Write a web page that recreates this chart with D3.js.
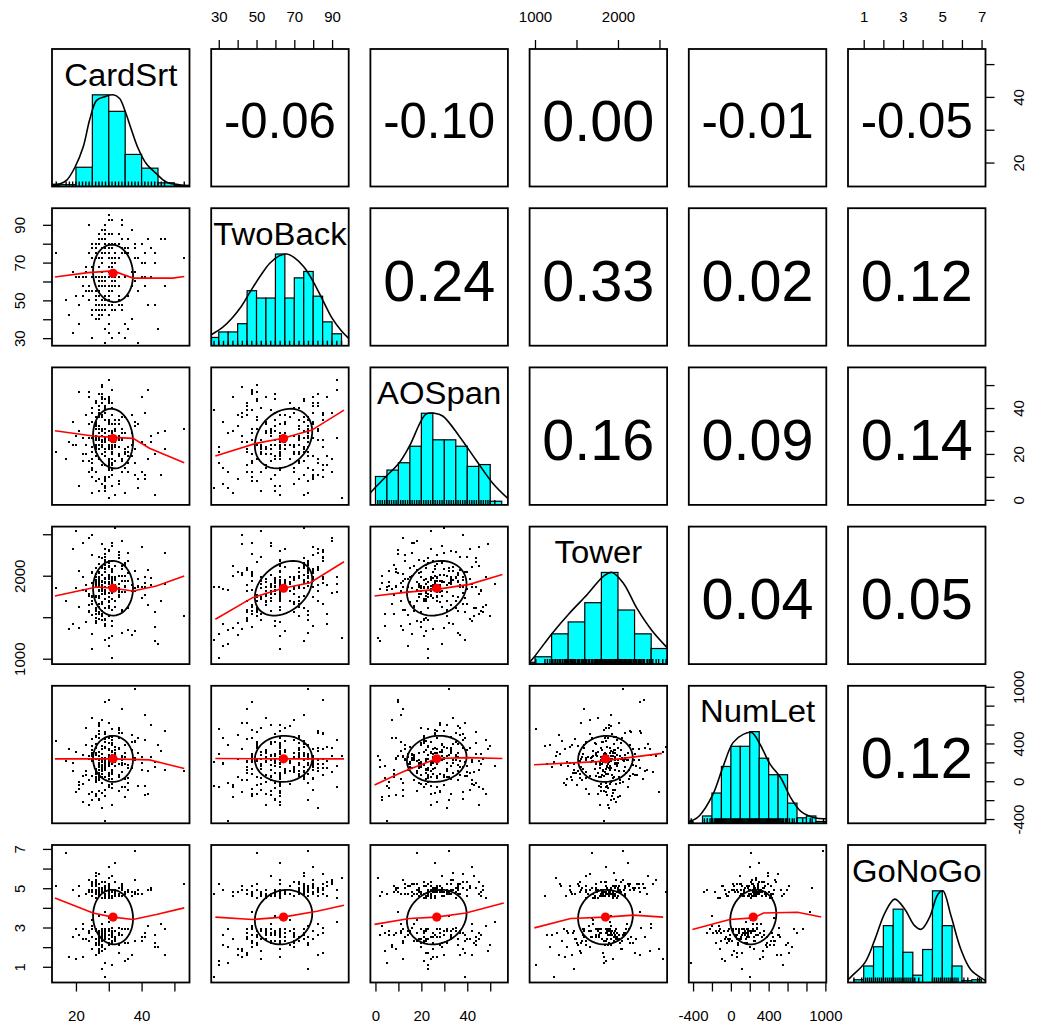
<!DOCTYPE html>
<html>
<head>
<meta charset="utf-8">
<script src="https://cdn.jsdelivr.net/npm/d3@7"></script>
<style>
  body { margin: 0; background: #fff; }
  svg { display: block; }
  text { font-family: "Liberation Sans", Arial, Helvetica, sans-serif; fill: #000; }
</style>
</head>
<body>
<svg id="chart" width="1037" height="1032"></svg>
<script>
// ---- variables ----
const varNames = ["CardSrt", "TwoBack", "AOSpan", "Tower", "NumLet", "GoNoGo"];

const cardSrt = [
  28,31,21,35,29,33,27,30,41,25,32,29,22,36,28,30,27,34,26,31,
  29,38,25,30,27,33,28,24,31,44,35,26,30,40,28,32,27,29,23,31,
  26,30,34,28,37,25,29,31,27,42,30,28,33,26,19,21,32,27,36,30,
  28,25,31,29,44,27,30,33,26,38,35,29,31,20,27,34,30,28,39,26,
  32,29,27,31,25,30,38,28,22,33,29,23,30,27,36,31,28,46,29,26,
  30,27,34,45,31,25,29,41,32,26,30,28,35,27,24,31,29,33,28,30,
  27,31,26,24,37,30,28,22,32,27,34,29,25,31,28,40,30,26,33,29,
  28,30,35,26,29,32,27,43,31,39,25,30,14,29,34,27,31,26,38,28,
  31,26,29,33,27,30,24,28,36,18,32,25,30,28,42,27,31,29,35,26,
  29,32,41,30,27,47,25,31,29,34,28,23,30,26,37,29,53,27,31,17,
  30,24,33,27,39,29,21,31,26,35,28,44,30,25,32,19,29,36,27,34,
  26,31,28,43,30,23,33,27,29,38,25,31,22,34,28,30,41,26,32,29,
  33,27,30,20,29,36,25,31,28,47,26,32,29,24,37,30,27,40,31,28
];
const twoBack = [
  62.5,70,47.5,77.5,60,85,52.5,65,57.5,72.5,80,45,62.5,35,75,55,67.5,90,50,62.5,
  77.5,60,42.5,72.5,62.5,47.5,82.5,57.5,65,75,30,62.5,52.5,80,70,45,60,87.5,55,77.5,
  62.5,50,75,65,40,80,57.5,62.5,72.5,47.5,85,60,52.5,77.5,32.5,62.5,70,45,82.5,57.5,
  75,62.5,55,80,47.5,62.5,92.5,50,72.5,65,37.5,77.5,60,52.5,82.5,45,62.5,70,27.5,75,
  60,85,47.5,62.5,77.5,55,72.5,42.5,62.5,80,50,67.5,95,57.5,75,45,62.5,82.5,52.5,72.5,
  47.5,62.5,77.5,35,60,80,52.5,70,62.5,45,85,57.5,75,62.5,50,30,77.5,62.5,72.5,55,
  80,62.5,47.5,75,57.5,65,87.5,52.5,62.5,40,77.5,60,72.5,47.5,82.5,62.5,55,75,32.5,62.5,
  57.5,77.5,62.5,50,82.5,72.5,45,62.5,80,55,67.5,37.5,75,60,47.5,85,62.5,52.5,77.5,70,
  62.5,45,80,57.5,72.5,50,90,62.5,77.5,42.5,62.5,55,75,47.5,82.5,60,70,27.5,62.5,80,
  52.5,75,62.5,47.5,85,57.5,72.5,62.5,35,77.5,45,62.5,80,55,65,47.5,72.5,60,92.5,50,
  67.5,55,80,45,72.5,62.5,37.5,85,50,75,60,70,42.5,77.5,57.5,65,90,52.5,62.5,82.5,
  47.5,72.5,60,77.5,32.5,65,85,55,62.5,80,45,70,57.5,92.5,50,67.5,75,40,62.5,80,
  72.5,57.5,85,62.5,50,77.5,30,67.5,60,82.5,47.5,65,75,55,87.5,62.5,42.5,70,57.5,77.5
];
const aoSpan = [
  23,14,47,29,19,35,4,26,9,40,33,21,27,12,44,22,36,18,31,24,
  27,11,38,35,22,26,42,17,28,2,21,33,23,45,7,25,38,15,20,30,
  19,43,17,25,37,10,31,21,24,48,13,30,20,28,34,6,24,39,16,22,
  36,23,14,41,20,27,52,8,32,22,3,29,18,24,46,12,33,28,5,34,
  35,26,39,22,14,30,16,49,27,19,44,24,1,31,23,37,26,11,40,21,
  17,24,31,29,6,13,22,38,25,42,10,20,36,18,47,23,8,33,28,15,
  38,21,12,27,24,34,45,20,23,9,36,26,40,16,31,25,22,43,7,19,
  30,35,20,24,41,17,22,28,11,33,18,45,21,4,29,37,13,26,32,23,
  33,22,9,28,24,44,12,37,19,25,2,34,23,46,18,32,21,39,14,27,
  21,30,24,16,38,22,27,25,5,36,15,20,42,23,29,10,31,26,48,18,
  18,33,27,41,9,25,30,15,36,22,46,20,28,3,31,24,38,12,29,26,
  31,20,44,25,14,37,23,29,6,34,21,40,17,27,50,24,11,32,26,19,
  26,39,13,28,35,21,16,42,24,30,8,33,22,45,19,27,36,12,29,23
];
const tower = [
  1850,1960,1620,2150,1780,2280,1540,1910,1870,2040,1990,1480,1830,1350,2210,1700,1920,2420,1590,1880,
  1970,1820,2490,1690,1760,1830,2110,1570,1940,1210,1860,1980,1740,2350,1660,1890,1950,1420,1810,2080,
  1900,1510,2120,1860,1290,2030,1800,1720,1990,1650,2180,1930,1850,1880,1420,2060,1840,1560,2270,1790,
  2010,1120,1870,1960,1380,2140,1900,1770,2090,1330,2000,1920,1460,2540,1810,1590,2300,1680,1870,1950,
  1970,1910,2050,1790,1530,1930,1850,2380,1980,1740,2160,1820,1250,1890,1610,2070,1940,1700,2220,1860,
  1640,1950,2000,1180,1880,2250,1720,1990,1860,1450,2310,1780,1940,1830,1560,1010,2130,1900,1850,1680,
  1870,1270,2020,1750,1810,2100,1540,1980,1870,2040,1310,1930,1660,2400,1890,1730,1960,1610,1840,2190,
  2010,1990,1880,1760,2320,1620,1820,1890,1390,1960,1700,2120,1850,1400,1940,2230,1590,1900,2060,1780,
  1920,1490,2080,1800,1970,1610,2460,1870,2030,1360,1840,1760,2150,1580,2070,1910,1950,1230,1800,1940,
  1470,2580,1770,2000,1660,1900,1740,2180,1830,1570,2090,1440,1860,1920,1810,2260,1520,1880,1990,1690,
  1920,1650,2250,1480,1880,2050,1370,1990,1740,2130,1830,1560,2010,1910,1700,2320,1790,1940,1620,2080,
  1580,2040,1860,1970,1150,1890,2210,1760,1930,2060,1690,1840,2400,1800,1520,1980,1910,1430,2120,1870,
  2000,1730,1960,1850,1610,2180,1300,1900,1820,2270,1540,1950,2090,1780,1890,1690,2030,1860,2360,1470
];
const numLet = [
  240,120,-80,380,190,510,30,270,-150,330,160,450,60,-20,290,210,580,100,350,-250,
  180,420,-110,260,90,540,230,10,310,150,-60,470,280,120,650,200,-190,360,70,250,
  300,-40,220,130,490,270,50,410,170,-130,340,240,560,80,190,-10,300,620,140,230,
  110,370,260,-90,200,530,160,40,280,430,-170,240,90,310,180,760,20,250,-50,390,
  220,140,460,-30,290,70,250,340,-220,180,520,110,270,600,30,210,-120,320,160,480,
  260,50,190,380,-70,230,130,440,290,10,860,170,300,-100,240,550,120,350,80,200,
  150,310,-160,270,420,90,210,-30,360,240,170,500,60,280,-280,190,330,100,460,230,
  40,280,180,-140,350,250,120,590,20,300,210,-60,430,160,270,70,380,240,980,140,
  320,90,250,-100,190,410,270,150,-20,340,220,670,60,290,110,-200,470,200,260,30,
  180,360,-50,230,500,120,300,80,-420,260,150,380,200,-10,330,840,110,270,440,210,
  210,-130,340,90,460,250,-40,180,390,20,290,150,620,-200,270,110,350,-90,230,510,
  130,400,-20,260,180,560,70,310,-160,220,450,100,280,-60,370,190,700,40,300,160,
  350,60,240,-110,420,170,290,-30,200,530,80,330,240,-250,140,460,10,260,390,120
];
const goNoGo = [
  4.8,2.6,5.1,2.2,4.6,3.0,1.8,4.9,2.7,5.3,2.4,4.7,1.5,2.9,5.0,4.5,2.1,5.2,2.8,4.9,
  2.5,4.7,1.9,5.0,2.8,4.6,3.2,2.3,4.8,2.6,1.3,5.4,2.9,4.7,2.0,4.9,2.7,5.1,2.4,4.6,
  4.9,2.2,5.2,2.7,1.6,4.8,2.9,4.5,2.5,3.1,5.0,2.8,4.7,2.1,4.9,2.6,5.3,1.7,4.8,2.9,
  2.4,4.6,2.8,5.1,2.0,4.9,3.3,2.6,4.7,2.3,4.8,5.0,2.7,1.4,4.6,2.9,5.2,2.5,4.7,5.8,
  2.8,4.9,2.3,4.6,5.1,2.6,4.8,1.8,2.9,5.0,2.5,4.7,5.5,2.2,4.9,2.7,4.5,3.2,2.4,5.3,
  4.7,2.5,4.9,2.0,2.8,5.2,4.6,2.7,4.8,1.6,5.0,2.9,4.7,2.3,4.9,1.1,5.1,2.6,4.8,2.8,
  5.0,2.7,2.2,4.8,4.6,2.9,5.3,2.4,4.7,1.9,5.1,2.6,4.9,3.0,4.8,2.5,4.6,5.6,2.1,4.9,
  2.6,4.8,2.9,4.5,5.0,2.3,1.7,4.9,2.8,4.7,3.4,2.4,5.1,2.7,4.6,5.2,2.5,4.8,6.9,2.9,
  4.9,2.4,5.0,2.7,4.7,2.1,5.4,2.8,4.8,1.5,4.6,2.9,5.2,2.6,4.9,3.6,2.3,0.5,4.7,5.1,
  2.8,4.8,2.5,4.6,5.7,2.9,4.9,2.2,1.2,5.0,2.7,4.7,6.1,2.4,4.8,3.8,5.2,2.6,4.5,6.8,
  4.7,2.8,5.0,2.4,4.9,1.9,4.6,2.7,5.2,2.9,4.8,2.2,5.1,3.1,4.7,2.5,5.3,1.4,4.8,2.6,
  2.9,4.8,2.3,5.0,2.6,4.7,1.7,4.9,2.8,5.4,2.5,4.6,3.2,4.9,2.1,5.1,2.7,4.8,6.3,2.4,
  5.0,2.6,4.7,2.9,4.5,2.2,5.2,2.8,4.9,1.6,4.8,2.5,5.1,2.7,4.6,3.5,4.9,2.3,5.6,0.9
];

// summary values per variable
const varMeans = [31.3, 64.3, 26.7, 1849, 237, 3.53];
const varSds   = [6.1, 15.2, 13.0, 330, 244, 1.39];

// upper-triangle correlations, row by row
const corrRows = [
  [-0.06, -0.10, 0.00, -0.01, -0.05],
  [0.24, 0.33, 0.02, 0.12],
  [0.16, 0.09, 0.14],
  [0.04, 0.05],
  [0.12]
];

// axis ranges, tick positions and labelled ticks
const axisDomains = [[12.7, 54.6], [26, 98.8], [-2.2, 57.7], [935, 2592], [-445, 1010], [0.2, 7.2]];
const axisTicks = [
  [20, 30, 40, 50],
  [30, 40, 50, 60, 70, 80, 90],
  [0, 10, 20, 30, 40, 50],
  [1000, 1500, 2000, 2500],
  [-400, -200, 0, 200, 400, 600, 800, 1000],
  [1, 2, 3, 4, 5, 6, 7]
];
const axisLabels = [
  [20, 40],
  [30, 50, 70, 90],
  [0, 20, 40],
  [1000, 2000],
  [-400, 0, 400, 1000],
  [1, 3, 5, 7]
];

// histogram breaks and bar heights (scaled so the tallest bar is 1)
const histBreaks = [
  [10, 15, 20, 25, 30, 35, 40, 45, 50, 55],
  [25, 30, 35, 40, 45, 50, 55, 60, 65, 70, 75, 80, 85, 90, 95],
  [0, 5, 10, 15, 20, 25, 30, 35, 40, 45, 50, 55],
  [800, 1000, 1200, 1400, 1600, 1800, 2000, 2200, 2400, 2600],
  [-500, -400, -300, -200, -100, 0, 100, 200, 300, 400, 500, 600, 700, 800, 900, 1000],
  [0.5, 1, 1.5, 2, 2.5, 3, 3.5, 4, 4.5, 5, 5.5, 6, 6.5, 7]
];
const histHeights = [
  [0.01, 0.02, 0.21, 1.0, 0.82, 0.35, 0.2, 0.04, 0.01],
  [0.09, 0.15, 0.15, 0.24, 0.60, 0.52, 0.52, 1.0, 0.52, 0.74, 0.81, 0.54, 0.26, 0.13],
  [0.31, 0.38, 0.46, 0.64, 1.0, 0.71, 0.71, 0.64, 0.42, 0.44, 0.04],
  [0.02, 0.08, 0.33, 0.46, 0.67, 1.0, 0.59, 0.33, 0.17],
  [0.02, 0.0, 0.08, 0.33, 0.62, 0.84, 0.84, 1.0, 0.71, 0.53, 0.53, 0.22, 0.06, 0.08, 0.02],
  [0.03, 0.18, 0.39, 0.62, 0.80, 0.33, 0.08, 0.36, 1.0, 0.62, 0.18, 0.02, 0.03]
];

// density curves (scaled so the peak is 1)
const densityCurves = [
  [[12.7,0.02],[15.2,0.03],[17.2,0.07],[19.7,0.21],[22.2,0.43],[24.2,0.73],[26.3,0.94],[28.8,0.98],[31.3,1.0],[33.3,0.96],[34.8,0.84],[36.9,0.62],[38.9,0.42],[41.4,0.25],[44.5,0.14],[47.5,0.05],[51.5,0.02],[54.6,0.01]],
  [[26,0.12],[32,0.2],[37,0.3],[42,0.43],[47,0.6],[52,0.76],[57,0.9],[62,0.98],[66,1.0],[70,0.96],[75,0.86],[80,0.7],[85,0.5],[90,0.3],[95,0.16],[98.8,0.08]],
  [[-2.2,0.13],[-1.2,0.16],[4.6,0.31],[10.4,0.46],[14.8,0.64],[22,0.99],[25.7,1.0],[29.3,0.97],[36.5,0.75],[43.8,0.49],[51,0.24],[57.7,0.07]],
  [[935,0.02],[992,0.08],[1211,0.34],[1410,0.55],[1630,0.76],[1828,0.96],[1928,1.0],[2067,0.88],[2227,0.61],[2406,0.37],[2592,0.18]],
  [[-445,0.02],[-389,0.04],[-335,0.08],[-192,0.31],[-85,0.61],[23,0.88],[131,0.97],[221,0.99],[310,0.86],[418,0.64],[526,0.5],[633,0.28],[741,0.13],[884,0.06],[1010,0.05]],
  [[0.2,0.03],[0.39,0.07],[1.07,0.22],[1.57,0.47],[2.08,0.76],[2.58,0.91],[3.09,0.8],[3.59,0.62],[3.93,0.58],[4.35,0.71],[4.77,0.96],[5.03,1.0],[5.44,0.73],[5.95,0.36],[6.45,0.14],[7.13,0.03],[7.2,0.02]]
];

// smoothed fits for the lower panels: smoothLines[row][col], x = column variable, y = row variable
const smoothLines = [
  [],
  [[[13.6,62.4],[23.7,64.7],[31.3,65.6],[37.4,61.8],[49.5,61.8],[53,62.6]]],
  [[[13.6,30.1],[25.2,27.8],[31.3,27.2],[37.4,26.8],[42.4,22.5],[53,16.2]],
   [[28.2,19.1],[49.7,24.6],[64,26.8],[79.3,30.4],[96.3,39.1]]],
  [[[13.6,1756],[26.3,1864],[31.3,1849],[37.4,1816],[44.5,1876],[53,1996]],
   [[28.2,1476],[47.9,1736],[64,1849],[78.4,1916],[96.3,2168]],
   [[-0.4,1756],[11.9,1796],[26.7,1836],[40.9,1896],[55.3,2016]]],
  [[[13.6,237],[31.3,237],[42.4,226],[53,134]],
   [[28.2,240],[64,237],[96.3,237]],
   [[-0.4,-40],[12,100],[26.7,240],[40,250],[55.3,240]],
   [[988,175],[1753,208],[2529,295]]],
  [[[13.6,4.5],[25.2,3.74],[31.3,3.53],[37.4,3.41],[44.5,3.66],[53,4.0]],
   [[28.2,3.53],[47.9,3.41],[64,3.53],[82,3.83],[96.3,4.13]],
   [[-0.4,3.16],[14.8,3.46],[26.4,3.53],[39.4,3.74],[55.9,4.25]],
   [[992,2.98],[1430,3.46],[1848,3.53],[2186,3.63],[2545,3.53]],
   [[-407,2.9],[-12,3.41],[238,3.49],[346,3.74],[705,3.78],[956,3.53]]]
];

// ---- layout ----
const svg = d3.select("#chart");
const LEFT = 52, TOP = 49, STEP = 159.2, SIZE = 137.5;
const colX = d3.range(6).map(i => LEFT + i * STEP);
const rowY = d3.range(6).map(i => TOP + i * STEP);
const columns = [cardSrt, twoBack, aoSpan, tower, numLet, goNoGo];

const xScales = axisDomains.map((d, i) => d3.scaleLinear().domain(d).range([colX[i], colX[i] + SIZE]));
const yScales = axisDomains.map((d, i) => d3.scaleLinear().domain(d).range([rowY[i] + SIZE, rowY[i]]));

function corrOf(i, j) {
  const a = Math.min(i, j), b = Math.max(i, j);
  return corrRows[a][b - a - 1];
}

const defs = svg.append("defs");
for (let i = 0; i < 6; i++) for (let j = 0; j < 6; j++) {
  defs.append("clipPath").attr("id", `clip-${i}-${j}`)
    .append("rect").attr("x", colX[j]).attr("y", rowY[i]).attr("width", SIZE).attr("height", SIZE);
}

function drawDiagonal(g, gClip, k) {
  const x = xScales[k];
  const x0 = colX[k], y0 = rowY[k];
  const hy = d3.scaleLinear().domain([0, 1.5]).range([y0 + SIZE, y0]);
  const br = histBreaks[k], hh = histHeights[k];

  gClip.selectAll("rect.bar").data(hh).join("rect")
    .attr("class", "bar")
    .attr("x", (d, b) => x(br[b]))
    .attr("width", (d, b) => x(br[b + 1]) - x(br[b]))
    .attr("y", d => hy(d))
    .attr("height", d => hy(0) - hy(d))
    .attr("fill", "#00FFFF")
    .attr("stroke", "#000")
    .attr("stroke-width", 1.2);

  gClip.append("path")
    .attr("d", d3.line().x(d => x(d[0])).y(d => hy(d[1])).curve(d3.curveCatmullRom)(densityCurves[k]))
    .attr("fill", "none").attr("stroke", "#000").attr("stroke-width", 1.6);

  // rug
  const uniq = Array.from(new Set(columns[k]));
  gClip.selectAll("line.rug").data(uniq).join("line")
    .attr("class", "rug")
    .attr("x1", d => x(d)).attr("x2", d => x(d))
    .attr("y1", y0 + SIZE).attr("y2", y0 + SIZE - 5)
    .attr("stroke", "#000").attr("stroke-width", 1.4);

  g.append("text")
    .attr("transform", `translate(${x0 + SIZE / 2},${y0 + 36.5}) scale(1.06,1)`)
    .attr("text-anchor", "middle")
    .attr("font-size", 31)
    .text(varNames[k]);
}

function drawScatter(gClip, i, j) {
  const x = xScales[j], y = yScales[i];
  const xs = columns[j], ys = columns[i];

  gClip.selectAll("rect.pt").data(d3.range(xs.length)).join("rect")
    .attr("class", "pt")
    .attr("x", k => Math.round(x(xs[k])) - 1)
    .attr("y", k => Math.round(y(ys[k])) - 1)
    .attr("width", 2).attr("height", 2)
    .attr("shape-rendering", "crispEdges")
    .attr("fill", "#000");

  // correlation ellipse at one standard deviation
  const r = corrOf(i, j);
  const theta = r === 0 ? 1 / Math.SQRT2 : Math.sign(r) / Math.SQRT2;
  const seg = 51;
  const ell = d3.range(seg + 1).map(s => {
    const a = s * 2 * Math.PI / seg, c = Math.cos(a), sn = Math.sin(a);
    const ex = c * Math.sqrt(1 + r) * theta - sn * Math.sqrt(1 - r) * theta;
    const ey = c * Math.sqrt(1 + r) * theta + sn * Math.sqrt(1 - r) * theta;
    return [varMeans[j] + ex * varSds[j], varMeans[i] + ey * varSds[i]];
  });
  gClip.append("path")
    .attr("d", d3.line().x(d => x(d[0])).y(d => y(d[1]))(ell))
    .attr("fill", "none").attr("stroke", "#000").attr("stroke-width", 1.8);

  gClip.append("path")
    .attr("d", d3.line().x(d => x(d[0])).y(d => y(d[1]))(smoothLines[i][j]))
    .attr("fill", "none").attr("stroke", "#FF0000").attr("stroke-width", 1.6);

  gClip.append("circle")
    .attr("cx", x(varMeans[j])).attr("cy", y(varMeans[i])).attr("r", 4.6)
    .attr("fill", "#FF0000");
}

function drawCorrelation(g, i, j) {
  const label = corrOf(i, j).toFixed(2);
  const cx = colX[j] + SIZE / 2, cy = rowY[i] + SIZE / 2;
  const t = g.append("text").attr("font-size", 100).attr("text-anchor", "middle").text(label);
  const w = t.node().getComputedTextLength();
  const fs = 100 * 112 / w;
  t.attr("font-size", fs).attr("x", cx).attr("y", cy + 3 + 0.358 * fs);
}

for (let i = 0; i < 6; i++) {
  for (let j = 0; j < 6; j++) {
    const g = svg.append("g");
    const gClip = g.append("g").attr("clip-path", `url(#clip-${i}-${j})`);
    if (i === j) drawDiagonal(g, gClip, i);
    else if (i > j) drawScatter(gClip, i, j);
    else drawCorrelation(g, i, j);
    g.append("rect")
      .attr("x", colX[j]).attr("y", rowY[i]).attr("width", SIZE).attr("height", SIZE)
      .attr("fill", "none").attr("stroke", "#000").attr("stroke-width", 1.8);
  }
}

// ---- axes (alternating sides, as in a scatterplot matrix) ----
const TICK = 9, PAD = 18.5, LABEL_OFF = 33, AXIS_FONT = 15;
function fmt(k) {
  const shown = new Set(axisLabels[k]);
  return d => shown.has(d) ? String(d) : "";
}
function styleAxis(g) {
  g.select(".domain").remove();
  g.selectAll(".tick line").attr("stroke", "#000").attr("stroke-width", 1.3);
  g.selectAll(".tick text").attr("font-size", AXIS_FONT).attr("fill", "#000")
    .attr("font-family", "'Liberation Sans', Arial, sans-serif");
}
[1, 3, 5].forEach(k => {
  const g = svg.append("g").attr("transform", `translate(0,${rowY[0]})`)
    .call(d3.axisTop(xScales[k]).tickValues(axisTicks[k]).tickFormat(fmt(k)).tickSize(TICK).tickSizeOuter(0).tickPadding(PAD));
  styleAxis(g);
});
[0, 2, 4].forEach(k => {
  const g = svg.append("g").attr("transform", `translate(0,${rowY[5] + SIZE})`)
    .call(d3.axisBottom(xScales[k]).tickValues(axisTicks[k]).tickFormat(fmt(k)).tickSize(TICK).tickSizeOuter(0).tickPadding(PAD));
  styleAxis(g);
});
[1, 3, 5].forEach(k => {
  const g = svg.append("g").attr("transform", `translate(${colX[0]},0)`)
    .call(d3.axisLeft(yScales[k]).tickValues(axisTicks[k]).tickFormat(fmt(k)).tickSize(TICK).tickSizeOuter(0));
  styleAxis(g);
  g.selectAll(".tick text").attr("x", null).attr("dy", null)
    .attr("text-anchor", "middle").attr("dominant-baseline", "central")
    .attr("transform", `translate(${-LABEL_OFF},0) rotate(-90)`);
});
[0, 2, 4].forEach(k => {
  const g = svg.append("g").attr("transform", `translate(${colX[5] + SIZE},0)`)
    .call(d3.axisRight(yScales[k]).tickValues(axisTicks[k]).tickFormat(fmt(k)).tickSize(TICK).tickSizeOuter(0));
  styleAxis(g);
  g.selectAll(".tick text").attr("x", null).attr("dy", null)
    .attr("text-anchor", "middle").attr("dominant-baseline", "central")
    .attr("transform", `translate(${LABEL_OFF},0) rotate(-90)`);
});
</script>
</body>
</html>
